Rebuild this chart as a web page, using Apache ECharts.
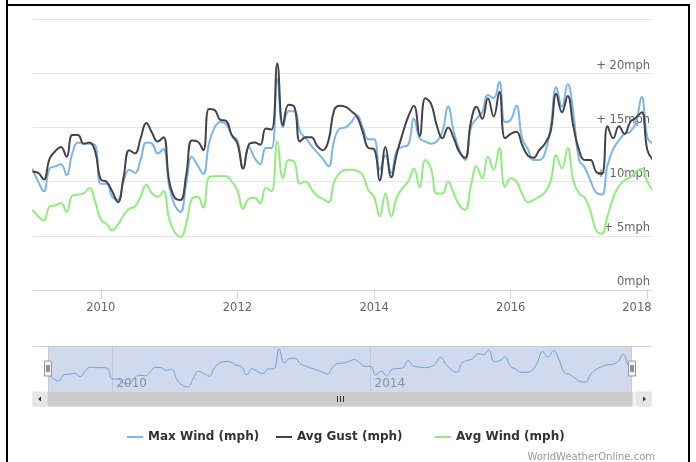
<!DOCTYPE html>
<html>
<head>
<meta charset="utf-8">
<script src="https://cdn.jsdelivr.net/npm/echarts@6/dist/echarts.min.js"></script>
<style>
  html, body { margin: 0; padding: 0; background: #fff; }
  #chart { width: 696px; height: 462px; }
</style>
</head>
<body>
<div id="chart"></div>
<script>
// Monthly wind statistics, one value per month starting January 2009
const firstYear = 2009;

const maxWind = [
  11.2, 10.0, 9.1, 11.2, 11.4, 11.6, 10.6, 12.6, 13.6, 13.5,
  13.5, 13.4, 9.8, 9.8, 8.6, 8.3, 10.0, 11.1, 10.8, 12.0,
  13.6, 13.5, 12.6, 13.0, 9.6, 7.8, 7.2, 9.8, 12.3, 11.5,
  10.7, 13.5, 15.0, 15.5, 15.3, 14.3, 13.8, 11.2, 13.2, 12.2,
  11.6, 13.1, 13.1, 19.5, 15.0, 16.5, 16.5, 14.6, 14.0, 13.3,
  12.7, 12.1, 11.4, 13.8, 14.9, 15.0, 15.5, 16.1, 15.0, 13.9,
  13.9, 11.1, 12.4, 10.8, 12.9, 13.2, 13.4, 15.8, 14.0, 13.7,
  13.5, 13.7, 14.6, 16.9, 14.6, 12.9, 12.0, 15.0, 15.8, 16.4,
  18.0, 17.7, 19.2, 15.5, 15.7, 17.0, 14.0, 13.0, 12.0, 12.0,
  12.6, 15.0, 18.7, 16.9, 19.0, 16.3, 12.0, 11.3, 10.1, 9.0,
  8.8, 11.5, 13.0, 13.8, 14.4, 14.6, 15.5, 17.8, 14.1, 13.5
];

const avgGust = [
  10.9, 10.8, 10.2, 12.1, 12.8, 13.2, 12.3, 14.3, 14.3, 13.5,
  13.6, 12.8, 10.2, 10.0, 9.1, 8.1, 10.4, 12.9, 12.6, 14.0,
  15.4, 14.5, 13.7, 14.1, 10.1, 8.5, 8.3, 10.6, 13.8, 13.7,
  12.9, 16.7, 16.6, 15.7, 15.6, 14.3, 13.5, 11.2, 13.4, 13.6,
  13.4, 14.9, 14.8, 20.9, 15.2, 17.1, 16.9, 13.7, 14.1, 14.1,
  13.3, 12.9, 13.8, 16.6, 17.0, 16.9, 16.5, 16.0, 14.6, 13.1,
  13.0, 10.1, 13.2, 10.4, 12.6, 14.4, 16.0, 17.0, 14.2, 17.7,
  17.2, 15.2, 14.0, 15.0, 14.0, 12.7, 12.2, 15.5, 16.9, 15.8,
  17.7, 16.0, 18.3, 14.0, 14.4, 14.6, 13.4, 12.4, 12.2, 12.9,
  13.5, 14.6, 18.1, 16.4, 17.9, 15.1, 12.9, 12.0, 12.0, 10.9,
  10.7, 15.1, 14.0, 15.1, 14.4, 15.5, 15.9, 16.4, 12.9, 12.0
];

const avgWind = [
  7.4, 6.8, 6.4, 7.7, 7.8, 8.0, 7.2, 8.7, 8.8, 8.9,
  9.4, 8.2, 6.5, 6.1, 5.5, 6.0, 6.9, 7.5, 7.7, 8.6,
  9.7, 8.9, 8.6, 9.1, 6.6, 5.3, 4.9, 6.1, 8.4, 8.6,
  7.6, 10.4, 10.5, 10.5, 10.5, 10.0, 9.2, 7.5, 8.4, 8.5,
  8.0, 9.4, 9.1, 13.7, 10.3, 12.0, 11.8, 9.8, 10.0, 9.3,
  8.7, 8.4, 8.1, 10.0, 10.8, 11.1, 11.1, 11.0, 10.6, 9.2,
  8.6, 6.8, 8.9, 6.8, 8.6, 9.4, 10.0, 11.2, 9.5, 12.0,
  11.2, 8.9, 8.9, 10.0, 8.9, 7.8, 7.4, 9.6, 11.4, 10.3,
  12.3, 11.1, 13.1, 9.5, 10.3, 10.0, 8.9, 8.1, 8.3, 8.6,
  9.0, 10.0, 12.4, 11.2, 13.1, 10.1, 8.9, 8.5, 7.3, 5.5,
  5.2, 6.8, 8.5, 9.6, 10.1, 10.4, 10.9, 11.2, 10.0, 9.1
];

const seriesNames = ['Max Wind (mph)', 'Avg Gust (mph)', 'Avg Wind (mph)'];
const seriesColors = ['#7cb5ec', '#434348', '#90ed7d'];
const yearTicks = [2010, 2012, 2014, 2016, 2018];
const navYearTicks = [2010, 2014];
const creditText = 'WorldWeatherOnline.com';

// ---- derived values: x positions are fractional years ----
const months = maxWind.map((_, i) => firstYear + i / 12);
const toPairs = arr => arr.map((v, i) => [months[i], v]);
const yearLabel = v => String(Math.round(v));
const lastTick = yearTicks[yearTicks.length - 1];

const viewStart = 2009.008;   // visible window of the main chart
const viewEnd = 2018.053;
const navStart = 2008.770;    // navigator axis extent
const navEnd = 2018.346;

const FONT = 'DejaVu Sans';
const plot = { left: 33, right: 651, top: 19, bottom: 290 };
const nav = { top: 346, bottom: 392 };
const bar = { top: 392, height: 14 };
const legendLefts = [122, 271, 430];

const chart = echarts.init(document.getElementById('chart'), null, { renderer: 'canvas' });

const mainSeries = seriesNames.map((name, i) => ({
  name: name,
  type: 'line',
  xAxisIndex: 0,
  yAxisIndex: 0,
  data: toPairs([maxWind, avgGust, avgWind][i]),
  smooth: 0.45,
  symbol: 'none',
  showSymbol: false,
  lineStyle: { width: 2, color: seriesColors[i] },
  itemStyle: { color: seriesColors[i] },
  z: 2 + i
}));

const legends = seriesNames.map((name, i) => ({
  left: legendLefts[i], top: 426, icon: 'rect', itemWidth: 16, itemHeight: 2,
  selectedMode: false,
  data: [name],
  textStyle: { fontFamily: FONT, fontWeight: 'bold', fontSize: 12, color: '#333' }
}));

const xLabelStyle = { color: '#666', fontSize: 11.5, fontFamily: FONT };

chart.setOption({
  animation: false,
  textStyle: { fontFamily: FONT },
  grid: [
    { left: plot.left, right: 696 - plot.right, top: plot.top, height: plot.bottom - plot.top },
    { left: plot.left, right: 696 - plot.right, top: nav.top, height: nav.bottom - nav.top }
  ],
  xAxis: [
    {
      type: 'value', gridIndex: 0, min: viewStart, max: viewEnd,
      axisLine: { show: true, lineStyle: { color: '#ccd6eb', width: 1 } },
      axisTick: { show: true, length: 9, lineStyle: { color: '#ccd6eb' }, customValues: yearTicks },
      axisLabel: Object.assign({
        customValues: yearTicks, margin: 12,
        // the last year label is nudged left so it stays inside the plot edge
        formatter: v => (Math.round(v) === lastTick ? '{edge|' + yearLabel(v) + '}' : yearLabel(v)),
        rich: { edge: Object.assign({ padding: [0, 21, 0, 0] }, xLabelStyle) }
      }, xLabelStyle),
      splitLine: { show: false }
    },
    {
      type: 'value', gridIndex: 1, min: navStart, max: navEnd, z: 0,
      axisLine: { show: false },
      axisTick: { show: true, inside: true, length: nav.bottom - nav.top,
                  lineStyle: { color: '#e6e6e6' }, customValues: navYearTicks },
      axisLabel: { inside: true, customValues: navYearTicks, formatter: v => yearLabel(v),
                   align: 'left', padding: [0, 0, 0, 4], margin: 2, color: '#999',
                   fontSize: 12, fontFamily: FONT },
      splitLine: { show: false }
    }
  ],
  yAxis: [
    {
      type: 'value', gridIndex: 0, position: 'right', min: 0, max: 25, interval: 5,
      axisLine: { show: false }, axisTick: { show: false },
      axisLabel: { inside: true, margin: 1, showMaxLabel: false, verticalAlign: 'bottom',
                   lineHeight: 15, color: '#666', fontSize: 11.5, fontFamily: FONT,
                   formatter: v => (v === 0 ? '0mph' : '+ ' + v + 'mph') },
      splitLine: { show: true, showMinLine: false, lineStyle: { color: '#e6e6e6', width: 1 } }
    },
    { type: 'value', gridIndex: 1, min: 5.6, max: 20.5, show: false }
  ],
  legend: legends,
  series: mainSeries.concat([{
    type: 'line', xAxisIndex: 1, yAxisIndex: 1, silent: true,
    data: toPairs(maxWind), smooth: 0.45, symbol: 'none', showSymbol: false,
    lineStyle: { width: 1, color: '#6a9fd9' }, z: 2
  }])
});

// Navigator selection, scrollbar and frame, placed from the navigator axis
const hx0 = Math.round(chart.convertToPixel({ xAxisIndex: 1 }, viewStart));
const hx1 = Math.round(chart.convertToPixel({ xAxisIndex: 1 }, viewEnd));
const midY = (nav.top + nav.bottom) / 2;
const barMid = bar.top + bar.height / 2;
const thumbMid = (hx0 + hx1) / 2;

function handle(x) {
  return [
    { type: 'rect', z: 10, shape: { x: x - 3.5, y: midY - 8, width: 7, height: 15 },
      style: { fill: '#f2f2f2', stroke: '#999', lineWidth: 1 } },
    { type: 'line', z: 11, shape: { x1: x - 1, y1: midY - 4, x2: x - 1, y2: midY + 3 },
      style: { stroke: '#333', lineWidth: 1 } },
    { type: 'line', z: 11, shape: { x1: x + 1, y1: midY - 4, x2: x + 1, y2: midY + 3 },
      style: { stroke: '#333', lineWidth: 1 } }
  ];
}

const graphics = [
  // navigator selected range
  { type: 'rect', z: 1, shape: { x: hx0, y: nav.top, width: hx1 - hx0, height: nav.bottom - nav.top },
    style: { fill: 'rgba(102,133,194,0.3)' } },
  // navigator outline
  { type: 'line', z: 3, shape: { x1: plot.left, y1: nav.top + 0.5, x2: plot.right, y2: nav.top + 0.5 },
    style: { stroke: '#cccccc', lineWidth: 1 } },
  { type: 'line', z: 3, shape: { x1: hx0 + 0.5, y1: nav.top, x2: hx0 + 0.5, y2: nav.bottom },
    style: { stroke: '#cccccc', lineWidth: 1 } },
  { type: 'line', z: 3, shape: { x1: hx1 - 0.5, y1: nav.top, x2: hx1 - 0.5, y2: nav.bottom },
    style: { stroke: '#cccccc', lineWidth: 1 } },
  // scrollbar track and buttons
  { type: 'rect', z: 3, shape: { x: plot.left, y: bar.top, width: plot.right - plot.left, height: bar.height },
    style: { fill: '#f2f2f2', stroke: '#f2f2f2' } },
  { type: 'rect', z: 4, shape: { x: plot.left, y: bar.top, width: 14, height: bar.height },
    style: { fill: '#e6e6e6', stroke: '#e0e0e0' } },
  { type: 'rect', z: 4, shape: { x: plot.right - 14, y: bar.top, width: 14, height: bar.height },
    style: { fill: '#e6e6e6', stroke: '#e0e0e0' } },
  { type: 'rect', z: 5, shape: { x: hx0, y: bar.top, width: hx1 - hx0, height: bar.height },
    style: { fill: '#cccccc', stroke: '#cccccc' } },
  { type: 'polygon', z: 6, shape: { points: [[plot.left + 5, barMid], [plot.left + 8, barMid - 2.5], [plot.left + 8, barMid + 2.5]] },
    style: { fill: '#333' } },
  { type: 'polygon', z: 6, shape: { points: [[plot.right - 5, barMid], [plot.right - 8, barMid - 2.5], [plot.right - 8, barMid + 2.5]] },
    style: { fill: '#333' } },
  { type: 'line', z: 6, shape: { x1: thumbMid - 2.5, y1: barMid - 3, x2: thumbMid - 2.5, y2: barMid + 3 }, style: { stroke: '#333', lineWidth: 1 } },
  { type: 'line', z: 6, shape: { x1: thumbMid + 0.5, y1: barMid - 3, x2: thumbMid + 0.5, y2: barMid + 3 }, style: { stroke: '#333', lineWidth: 1 } },
  { type: 'line', z: 6, shape: { x1: thumbMid + 3.5, y1: barMid - 3, x2: thumbMid + 3.5, y2: barMid + 3 }, style: { stroke: '#333', lineWidth: 1 } },
  // credits
  { type: 'text', z: 5, style: { x: 655, y: 457, text: creditText, align: 'right', verticalAlign: 'middle',
    fill: '#999', font: '10px "DejaVu Sans"' } },
  // outer frame
  { type: 'rect', z: 20, shape: { x: 6, y: 0, width: 2, height: 462 }, style: { fill: '#000' } },
  { type: 'rect', z: 20, shape: { x: 6, y: 4, width: 684, height: 2 }, style: { fill: '#000' } },
  { type: 'rect', z: 20, shape: { x: 688, y: 4, width: 2, height: 458 }, style: { fill: '#000' } }
].concat(handle(hx0), handle(hx1));

chart.setOption({ graphic: graphics });
</script>
</body>
</html>
